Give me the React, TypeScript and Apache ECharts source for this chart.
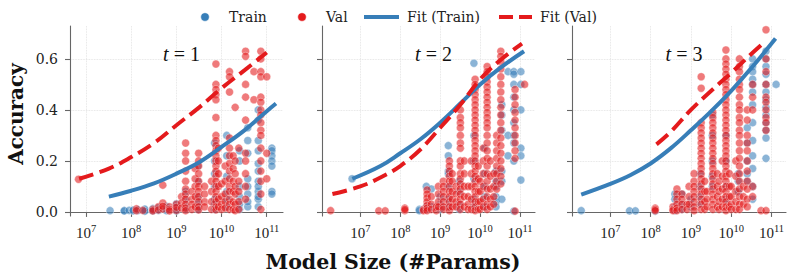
import React, { useEffect, useRef } from "react";
import * as echarts from "echarts";

type Col = [number, number[]];

// ---------- data (model size in #params, accuracy) ----------
const PANEL_TITLES = ["1", "2", "3"];
const X_TICKS = [1e7, 1e8, 1e9, 1e10, 1e11];
const Y_TICKS = [0, 0.2, 0.4, 0.6];
const LEGEND_NAMES = ["Train", "Val", "Fit (Train)", "Fit (Val)"];

const T1_TRAIN: Col[] = [
  [3.4e7, [0.005]],
  [7e7, [0.005, 0.004]],
  [9e7, [0.006]],
  [1.1e8, [0.004, 0.007]],
  [1.4e8, [0.005, 0.009]],
  [2e8, [0.006, 0.011, 0.003]],
  [3e8, [0.008, 0.013, 0.004]],
  [4e8, [0.01, 0.006, 0.016]],
  [6e8, [0.012, 0.022, 0.005]],
  [1e9, [0.01, 0.02, 0.032, 0.004]],
  [1.6e9, [0.02, 0.05, 0.08, 0.01]],
  [3e9, [0.02, 0.06, 0.12, 0.18, 0.01, 0.04]],
  [7e9, [0.01, 0.05, 0.1, 0.2, 0.27, 0.03, 0.15]],
  [1.3e10, [0.02, 0.08, 0.14, 0.22, 0.3, 0.05]],
  [2.5e10, [0.01, 0.03, 0.06, 0.1, 0.2, 0.24]],
  [3.8e10, [0.02, 0.04, 0.07, 0.1, 0.13, 0.23, 0.28, 0.33]],
  [6.5e10, [0.02, 0.05, 0.08, 0.12, 0.16, 0.19, 0.24, 0.28, 0.36, 0.4, 0.1, 0.06]],
  [1.3e11, [0.25, 0.24, 0.22, 0.2, 0.18, 0.08, 0.07]],
];
const T1_VAL: Col[] = [
  [6.8e6, [0.128]],
  [1.3e8, [0.012, 0.005]],
  [1.8e8, [0.006]],
  [3e8, [0.01, 0.004]],
  [4e8, [0.02, 0.008]],
  [5e8, [0.035, 0.012, 0.105, 0.022]],
  [7e8, [0.02, 0.01, 0.004]],
  [1e9, [0.03, 0.006, 0.018]],
  [1.3e9, [0.06, 0.035, 0.015]],
  [1.6e9, [0.27, 0.23, 0.2, 0.16, 0.12, 0.09, 0.07, 0.05, 0.03, 0.015, 0.005]],
  [2.2e9, [0.05, 0.03, 0.01, 0.08]],
  [2.6e9, [0.17, 0.13, 0.1, 0.06, 0.02]],
  [3.1e9, [0.23, 0.2, 0.18, 0.15, 0.12, 0.1, 0.08, 0.06, 0.04, 0.02, 0.008]],
  [4.2e9, [0.07, 0.04, 0.02, 0.1]],
  [6e9, [0.12, 0.08, 0.04, 0.01]],
  [7.5e9, [0.58, 0.5, 0.48, 0.46, 0.44, 0.37, 0.3, 0.28, 0.26, 0.24, 0.22, 0.2, 0.18, 0.16, 0.14, 0.12, 0.1, 0.08, 0.06, 0.04, 0.02, 0.008]],
  [8.5e9, [0.25, 0.2, 0.15, 0.1, 0.05, 0.02]],
  [1e10, [0.11, 0.06, 0.03, 0.01]],
  [1.2e10, [0.18, 0.12, 0.07, 0.04, 0.015]],
  [1.5e10, [0.55, 0.53, 0.47, 0.29, 0.25, 0.22, 0.19, 0.16, 0.13, 0.1, 0.08, 0.05, 0.03, 0.01]],
  [1.8e10, [0.22, 0.17, 0.12, 0.08, 0.04, 0.01]],
  [2e10, [0.41, 0.2, 0.15, 0.1, 0.07, 0.03, 0.005]],
  [2.4e10, [0.25, 0.12, 0.08, 0.04, 0.01]],
  [3.4e10, [0.63, 0.61, 0.5, 0.45, 0.36, 0.23, 0.2, 0.15, 0.1, 0.05]],
  [5.2e10, [0.55, 0.44]],
  [7.4e10, [0.63, 0.6, 0.55, 0.53, 0.45, 0.43, 0.4, 0.38, 0.35, 0.32, 0.3, 0.25, 0.2, 0.16, 0.12, 0.07, 0.01]],
  [1e11, [0.53, 0.23, 0.13]],
];

const T2_TRAIN: Col[] = [
  [6.2e6, [0.13]],
  [3e8, [0.01, 0.005]],
  [4.5e8, [0.1, 0.01, 0.02]],
  [6e8, [0.09, 0.02]],
  [1e9, [0.03, 0.01, 0.06]],
  [1.6e9, [0.26, 0.22, 0.16, 0.15, 0.05, 0.02, 0.1]],
  [3e9, [0.12, 0.08, 0.03, 0.01]],
  [7e9, [0.583, 0.3, 0.2, 0.13, 0.05, 0.02]],
  [1.3e10, [0.25, 0.15, 0.1, 0.06, 0.02]],
  [2.5e10, [0.12, 0.1, 0.06, 0.16, 0.04, 0.02]],
  [3.5e10, [0.42, 0.38, 0.32, 0.16, 0.12, 0.05]],
  [5e10, [0.55, 0.3, 0.22]],
  [7e10, [0.55, 0.54, 0.5, 0.45, 0.4, 0.35, 0.3, 0.27, 0.2, 0.003]],
  [1.05e11, [0.55, 0.5, 0.4, 0.25, 0.22, 0.125]],
];
const T2_VAL: Col[] = [
  [1.8e6, [0.005]],
  [2.9e7, [0.004]],
  [4.2e7, [0.004]],
  [1.3e8, [0.015, 0.005, 0.01]],
  [3.8e8, [0.01, 0.005]],
  [4.7e8, [0.086, 0.07, 0.055, 0.04, 0.025, 0.015, 0.005]],
  [6e8, [0.06, 0.03, 0.01]],
  [8e8, [0.02, 0.005]],
  [9e8, [0.1, 0.07, 0.04, 0.02]],
  [1.2e9, [0.12, 0.1, 0.08, 0.06, 0.04, 0.02, 0.01]],
  [1.7e9, [0.2, 0.18, 0.16, 0.14, 0.12, 0.1, 0.08, 0.06, 0.04, 0.02, 0.005]],
  [2e9, [0.15, 0.12, 0.08, 0.05, 0.02]],
  [2.5e9, [0.1, 0.07, 0.04, 0.02]],
  [3.2e9, [0.4, 0.37, 0.35, 0.33, 0.3, 0.27, 0.25, 0.2, 0.18, 0.15, 0.13, 0.11, 0.09, 0.07, 0.05, 0.03, 0.01]],
  [4e9, [0.2, 0.15, 0.1, 0.06, 0.02]],
  [5e9, [0.1, 0.06, 0.03, 0.01]],
  [6e9, [0.2, 0.15, 0.1, 0.05, 0.01]],
  [7.5e9, [0.52, 0.5, 0.48, 0.46, 0.44, 0.42, 0.4, 0.38, 0.36, 0.34, 0.32, 0.3, 0.28, 0.26, 0.24, 0.22, 0.2, 0.18, 0.16, 0.14, 0.12, 0.1, 0.08, 0.06, 0.04, 0.02, 0.005]],
  [9e9, [0.18, 0.13, 0.08, 0.04, 0.01]],
  [1e10, [0.12, 0.08, 0.04, 0.01]],
  [1.2e10, [0.25, 0.2, 0.15, 0.1, 0.05, 0.02]],
  [1.5e10, [0.57, 0.55, 0.53, 0.51, 0.49, 0.47, 0.45, 0.43, 0.41, 0.39, 0.37, 0.35, 0.33, 0.3, 0.27, 0.24, 0.21, 0.18, 0.15, 0.12, 0.09, 0.06, 0.03, 0.01]],
  [1.8e10, [0.2, 0.14, 0.09, 0.05, 0.02]],
  [2.2e10, [0.15, 0.1, 0.06, 0.03]],
  [2.6e10, [0.3, 0.27, 0.24, 0.21, 0.18, 0.15, 0.12, 0.09]],
  [3.3e10, [0.63, 0.61, 0.59, 0.56, 0.53, 0.5, 0.47, 0.44, 0.41, 0.38, 0.35, 0.32, 0.29, 0.26, 0.23, 0.2, 0.17, 0.14, 0.11]],
  [7.5e10, [0.48, 0.45, 0.42, 0.39, 0.36, 0.33, 0.3, 0.27, 0.24, 0.21, 0.003]],
  [1.3e11, [0.5]],
];

const T3_TRAIN: Col[] = [
  [1.9e6, [0.005]],
  [3e7, [0.004]],
  [4.2e7, [0.004]],
  [1.3e8, [0.003]],
  [4e8, [0.07, 0.05, 0.02, 0.005]],
  [6e8, [0.07, 0.03, 0.01]],
  [1e9, [0.05, 0.02]],
  [1.7e9, [0.15, 0.1, 0.06, 0.03]],
  [3.4e9, [0.38, 0.3, 0.2, 0.14, 0.1]],
  [7.5e9, [0.3, 0.2, 0.1, 0.05]],
  [1.5e10, [0.15, 0.12, 0.08]],
  [2.5e10, [0.33, 0.27, 0.2, 0.15, 0.12]],
  [3.4e10, [0.6, 0.57, 0.55, 0.52, 0.5, 0.47, 0.42, 0.35, 0.28, 0.22, 0.17, 0.1, 0.05]],
  [7.3e10, [0.63, 0.6, 0.57, 0.54, 0.5, 0.47, 0.44, 0.41, 0.38, 0.35, 0.32, 0.29, 0.21]],
  [1.3e11, [0.5]],
];
const T3_VAL: Col[] = [
  [1.3e8, [0.015, 0.01, 0.005]],
  [3.6e8, [0.02, 0.01, 0.005]],
  [4.5e8, [0.09, 0.07, 0.05, 0.03, 0.015, 0.005]],
  [6e8, [0.07, 0.05, 0.03, 0.01]],
  [8e8, [0.03, 0.01]],
  [9e8, [0.1, 0.06, 0.03]],
  [1.2e9, [0.15, 0.12, 0.1, 0.08, 0.06, 0.04, 0.02, 0.005]],
  [1.8e9, [0.53, 0.485, 0.35, 0.33, 0.31, 0.29, 0.27, 0.25, 0.23, 0.21, 0.19, 0.17, 0.15, 0.13, 0.11, 0.09, 0.07, 0.05, 0.03, 0.01]],
  [2.2e9, [0.12, 0.08, 0.04, 0.01]],
  [2.5e9, [0.08, 0.05, 0.02]],
  [3.5e9, [0.39, 0.37, 0.35, 0.33, 0.31, 0.29, 0.27, 0.25, 0.23, 0.21, 0.19, 0.17, 0.15, 0.13, 0.11, 0.09, 0.07, 0.05, 0.03, 0.01]],
  [4.5e9, [0.15, 0.1, 0.06, 0.02]],
  [5e9, [0.12, 0.08, 0.04, 0.01]],
  [6e9, [0.2, 0.14, 0.09, 0.05, 0.02]],
  [7.4e9, [0.635, 0.6, 0.58, 0.56, 0.54, 0.52, 0.5, 0.48, 0.46, 0.44, 0.42, 0.4, 0.38, 0.36, 0.34, 0.32, 0.3, 0.28, 0.26, 0.24, 0.22, 0.2, 0.18, 0.16, 0.14, 0.12, 0.1, 0.08, 0.06, 0.04, 0.02, 0.005]],
  [9e9, [0.15, 0.1, 0.06, 0.02]],
  [1e10, [0.1, 0.06, 0.03, 0.01]],
  [1.3e10, [0.2, 0.14, 0.08, 0.04, 0.01]],
  [1.6e10, [0.6, 0.57, 0.55, 0.52, 0.5, 0.48, 0.45, 0.42, 0.4, 0.37, 0.35, 0.32, 0.3, 0.27, 0.24, 0.21, 0.18, 0.15, 0.12, 0.09, 0.06, 0.03, 0.01]],
  [2e10, [0.1, 0.06, 0.03]],
  [2.5e10, [0.4, 0.36, 0.3, 0.27, 0.24, 0.2, 0.16, 0.12, 0.09, 0.05, 0.02]],
  [3.4e10, [0.5, 0.45, 0.4, 0.1, 0.06]],
  [5.5e10, [0.005]],
  [7.3e10, [0.714, 0.6, 0.55, 0.5, 0.45, 0.43, 0.4, 0.37, 0.35, 0.32, 0.005]],
];

// fitted curves
const T1_FIT_TRAIN: [number, number][] = [
  [3.2e7, 0.06], [1e8, 0.083], [3.2e8, 0.112], [1e9, 0.15], [3.2e9, 0.195],
  [1e10, 0.255], [3.2e10, 0.32], [1e11, 0.395], [1.6e11, 0.425],
];
const T1_FIT_VAL: [number, number][] = [
  [7e6, 0.13], [3.2e7, 0.17], [1e8, 0.215], [3.2e8, 0.27], [1e9, 0.34],
  [3.2e9, 0.41], [1e10, 0.485], [3.2e10, 0.555], [1e11, 0.625],
];
const T2_FIT_TRAIN: [number, number][] = [
  [6.3e6, 0.13], [3.2e7, 0.18], [1e8, 0.23], [3.2e8, 0.285], [1e9, 0.35],
  [3.2e9, 0.425], [1e10, 0.5], [3.2e10, 0.565], [1.26e11, 0.63],
];
const T2_FIT_VAL: [number, number][] = [
  [2e6, 0.07], [1e7, 0.1], [3.2e7, 0.135], [1e8, 0.18], [3.2e8, 0.245],
  [1e9, 0.33], [3.2e9, 0.42], [1e10, 0.52], [3.2e10, 0.595], [1.12e11, 0.66],
];
const T3_FIT_TRAIN: [number, number][] = [
  [1.9e6, 0.068], [1e7, 0.11], [3.2e7, 0.145], [1e8, 0.19], [3.2e8, 0.25],
  [1e9, 0.32], [3.2e9, 0.395], [1e10, 0.475], [3.2e10, 0.565], [1.26e11, 0.68],
];
const T3_FIT_VAL: [number, number][] = [
  [1.4e8, 0.265], [3.2e8, 0.315], [1e9, 0.4], [3.2e9, 0.475], [1e10, 0.545],
  [3.2e10, 0.62], [7.2e10, 0.67],
];

const PANELS = [
  { train: T1_TRAIN, val: T1_VAL, fitTrain: T1_FIT_TRAIN, fitVal: T1_FIT_VAL },
  { train: T2_TRAIN, val: T2_VAL, fitTrain: T2_FIT_TRAIN, fitVal: T2_FIT_VAL },
  { train: T3_TRAIN, val: T3_VAL, fitTrain: T3_FIT_TRAIN, fitVal: T3_FIT_VAL },
];

// ---------- layout ----------
const GRID_LEFT = [70, 322, 572];
const GRID_WIDTH = [213, 213, 214];
const X_MIN_EXP = [6.644, 6.04, 6.05];
const X_MAX_EXP = [11.36, 11.375, 11.36];

const BLUE = "#377eb8";
const RED = "#e41a1c";
const AXIS_COLOR = "#666666";
const SERIF = "'DejaVu Serif', serif";
const MATH = "'Liberation Serif', 'DejaVu Serif', serif";
const DASH = [15, 6.5];

const flatten = (cols: Col[]) => {
  const out: [number, number][] = [];
  cols.forEach(([x, ys]) => ys.forEach((y) => out.push([x, y])));
  return out;
};

export default function App() {
  const ref = useRef<HTMLDivElement>(null);

  useEffect(() => {
    if (!ref.current) return;
    const chart = echarts.init(ref.current, undefined, { renderer: "svg" });

    const grid = GRID_LEFT.map((l, i) => ({
      left: l,
      top: 26,
      width: GRID_WIDTH[i],
      height: 190,
    }));

    const xAxis = PANELS.map((_, i) => ({
      type: "log",
      logBase: 10,
      gridIndex: i,
      min: Math.pow(10, X_MIN_EXP[i]),
      max: Math.pow(10, X_MAX_EXP[i]),
      axisLine: { show: true, lineStyle: { color: AXIS_COLOR, width: 1.1 } },
      axisTick: {
        show: true,
        length: 5,
        customValues: X_TICKS,
        lineStyle: { color: AXIS_COLOR, width: 1.1 },
      },
      minorTick: { show: false },
      splitLine: {
        show: true,
        lineStyle: { color: "#dddddd", type: "dotted", width: 0.8 },
      },
      axisLabel: {
        customValues: X_TICKS,
        margin: 7,
        formatter: (v: number) => `{b|10}{s|${Math.round(Math.log10(v))}}`,
        rich: {
          b: { fontFamily: MATH, fontSize: 15, color: "#222", lineHeight: 20 },
          s: {
            fontFamily: MATH,
            fontSize: 10.5,
            color: "#222",
            lineHeight: 10,
            verticalAlign: "top",
          },
        },
      },
    }));

    const yAxis = PANELS.map((_, i) => ({
      type: "value",
      gridIndex: i,
      min: -0.016,
      max: 0.729,
      axisLine: { show: true, lineStyle: { color: AXIS_COLOR, width: 1.1 } },
      axisTick: {
        show: true,
        length: 5,
        customValues: Y_TICKS,
        lineStyle: { color: AXIS_COLOR, width: 1.1 },
      },
      splitLine: {
        show: true,
        lineStyle: { color: "#dddddd", type: "dotted", width: 0.8 },
      },
      axisLabel: {
        show: i === 0,
        customValues: Y_TICKS,
        margin: 12,
        fontFamily: SERIF,
        fontSize: 14,
        color: "#222",
        formatter: (v: number) => v.toFixed(1),
      },
    }));

    const series: any[] = [];
    PANELS.forEach((p, i) => {
      series.push({
        name: LEGEND_NAMES[0],
        type: "scatter",
        xAxisIndex: i,
        yAxisIndex: i,
        data: flatten(p.train),
        symbolSize: 8,
        itemStyle: { color: BLUE, opacity: 0.58, borderColor: "#fff", borderWidth: 0.6 },
        z: 2,
        silent: true,
      });
      series.push({
        name: LEGEND_NAMES[1],
        type: "scatter",
        xAxisIndex: i,
        yAxisIndex: i,
        data: flatten(p.val),
        symbolSize: 8,
        itemStyle: { color: RED, opacity: 0.58, borderColor: "#fff", borderWidth: 0.6 },
        z: 3,
        silent: true,
      });
      series.push({
        name: LEGEND_NAMES[2],
        type: "line",
        xAxisIndex: i,
        yAxisIndex: i,
        data: p.fitTrain,
        smooth: 0.4,
        showSymbol: false,
        symbol: "none",
        lineStyle: { color: BLUE, width: 4 },
        itemStyle: { color: BLUE },
        z: 5,
        silent: true,
      });
      series.push({
        name: LEGEND_NAMES[3],
        type: "line",
        xAxisIndex: i,
        yAxisIndex: i,
        data: p.fitVal,
        smooth: 0.4,
        showSymbol: false,
        symbol: "none",
        lineStyle: { color: RED, width: 4, type: DASH, cap: "butt" },
        itemStyle: { color: RED },
        z: 6,
        silent: true,
      });
    });

    const title = PANELS.map((_, i) => ({
      text: `{i|t}{r| = ${PANEL_TITLES[i]}}`,
      left: GRID_LEFT[i] + GRID_WIDTH[i] / 2,
      top: 39,
      textAlign: "center",
      textStyle: {
        fontWeight: "normal",
        rich: {
          i: { fontFamily: MATH, fontStyle: "italic", fontWeight: "normal", fontSize: 20, color: "#111" },
          r: { fontFamily: MATH, fontWeight: "normal", fontSize: 20, color: "#111" },
        },
      },
    }));

    // legend drawn as graphic elements to match the matplotlib layout
    const LY = 17;
    const legendText = (x: number, text: string) => ({
      type: "text",
      x,
      y: LY,
      style: {
        text,
        fontFamily: SERIF,
        fontSize: 14,
        fill: "#222",
        align: "left",
        verticalAlign: "middle",
      },
    });
    const legend = [
      { type: "circle", shape: { cx: 205, cy: LY, r: 4.3 }, style: { fill: BLUE, stroke: "#fff", lineWidth: 0.6 } },
      legendText(229, LEGEND_NAMES[0]),
      { type: "circle", shape: { cx: 302, cy: LY, r: 4.3 }, style: { fill: RED, stroke: "#fff", lineWidth: 0.6 } },
      legendText(326, LEGEND_NAMES[1]),
      { type: "line", shape: { x1: 364, y1: LY, x2: 399, y2: LY }, style: { stroke: BLUE, lineWidth: 4 } },
      legendText(407, LEGEND_NAMES[2]),
      { type: "line", shape: { x1: 499, y1: LY, x2: 532, y2: LY }, style: { stroke: RED, lineWidth: 4, lineDash: [14, 6], lineCap: "butt" } },
      legendText(540, LEGEND_NAMES[3]),
    ];

    chart.setOption({
      animation: false,
      backgroundColor: "#ffffff",
      title,
      grid,
      xAxis,
      yAxis,
      series,
      graphic: [
        ...legend,
        {
          type: "text",
          x: 16,
          y: 114,
          rotation: Math.PI / 2,
          style: {
            text: "Accuracy",
            fontFamily: SERIF,
            fontWeight: "bold",
            fontSize: 20,
            fill: "#111",
            align: "center",
            verticalAlign: "middle",
          },
        },
        {
          type: "text",
          x: 393,
          y: 262,
          style: {
            text: "Model Size (#Params)",
            fontFamily: SERIF,
            fontWeight: "bold",
            fontSize: 20.5,
            fill: "#111",
            align: "center",
            verticalAlign: "middle",
          },
        },
      ],
    });

    return () => chart.dispose();
  }, []);

  return (
    <div
      ref={ref}
      style={{ position: "fixed", left: 0, top: 0, width: 794, height: 278 }}
    />
  );
}
